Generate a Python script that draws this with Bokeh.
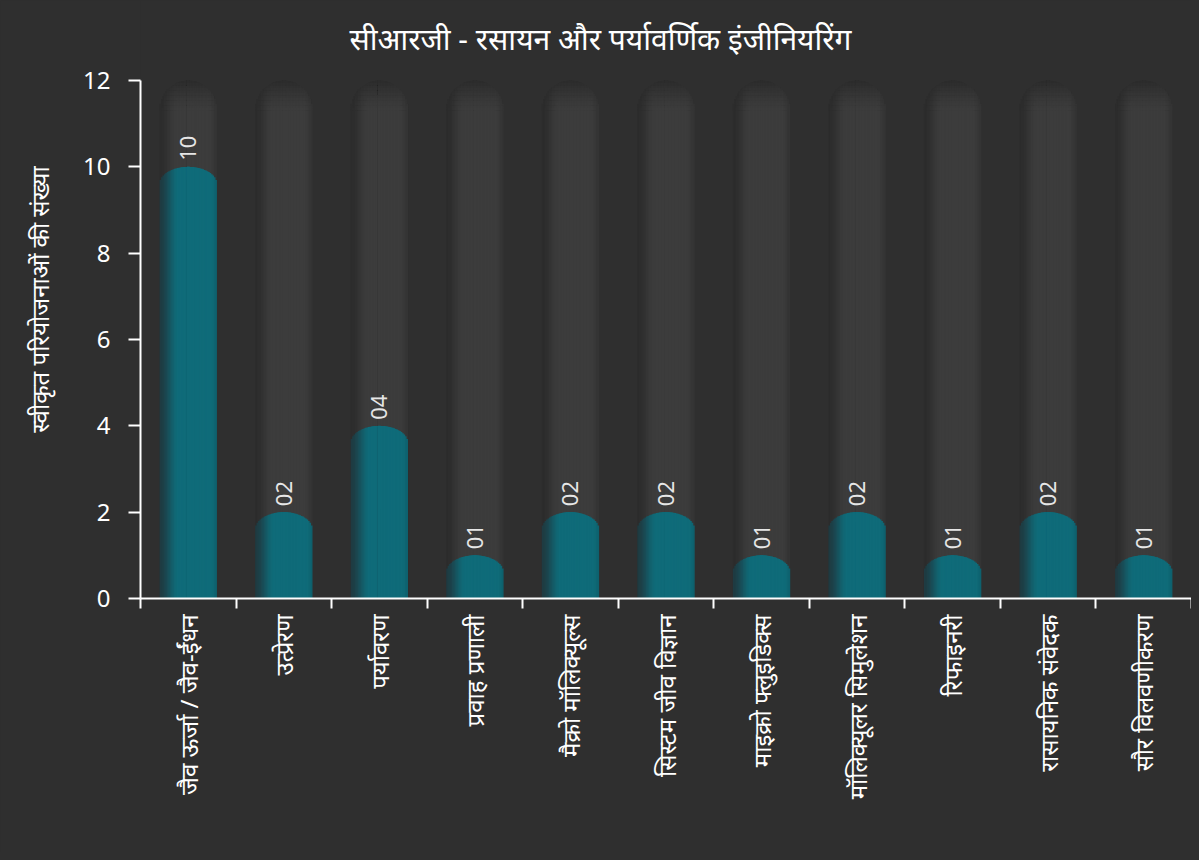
import numpy as np
from bokeh.plotting import figure
from bokeh.models import Range1d, FixedTicker, ColumnDataSource, Label
from bokeh.embed import file_html
from bokeh.resources import INLINE
from bokeh.core.properties import value

# ---------------- data ----------------
categories = ["जैव ऊर्जा / जैव-ईंधन", "उत्प्रेरण", "पर्यावरण", "प्रवाह प्रणाली",
              "मैक्रो मॉलिक्यूल्स", "सिस्टम जीव विज्ञान", "माइक्रो फ्लुइडिक्स",
              "मॉलिक्यूलर सिमुलेशन", "रिफाइनरी", "रासायनिक संवेदक", "सौर विलवणीकरण"]
counts = [10, 2, 4, 1, 2, 2, 1, 2, 1, 2, 1]
y_max = 12
y_ticks = [0, 2, 4, 6, 8, 10, 12]
title_text = "सीआरजी - रसायन और पर्यावर्णिक इंजीनियरिंग"
y_label = "स्वीकृत परियोजनाओं की संख्या"

# ---------------- style ----------------
BG = "#2f2f2f"
FONT = "Noto Sans"
W, H = 1191, 852
BL, BR = 140, 0
FRAME_TOP = 80             # pixel row of y_max
AXIS_Y = 598               # pixel row of y = 0
BB = H - AXIS_Y
TOP_PAD_PX = FRAME_TOP     # space above y_max inside the frame (holds the title)
BT = 0
frame_w = W - BL - BR
n = len(categories)
px_x = frame_w / n
px_y = (AXIS_Y - FRAME_TOP) / y_max
y_top = y_max + TOP_PAD_PX / px_y
bar_w = 0.6
hw = bar_w / 2
N_STRIPS = 40
teal_cap = 17 / px_y
bg_cap = 30 / px_y
K_ROWS = 12


def hex2rgb(h):
    h = h.lstrip("#")
    return np.array([int(h[i:i + 2], 16) for i in (0, 2, 4)], dtype=float)


def rgb2hex(c):
    c = np.clip(np.round(c), 0, 255).astype(int)
    return "#%02x%02x%02x" % tuple(c)


def mix(a, b, t):
    return a + (b - a) * t


def smooth(t):
    t = np.clip(t, 0, 1)
    return t * t * (3 - 2 * t)


teal = hex2rgb("#0f6b79")
teal_dark = hex2rgb("#1f3b42")
teal_right = hex2rgb("#0e616d")
bgbar = hex2rgb("#3c3c3c")
bgbar_dark = hex2rgb("#2c2c2c")
bgbar_right = hex2rgb("#343434")
bgcap_top = hex2rgb("#272727")

u = -1 + (np.arange(N_STRIPS) + 0.5) * 2 / N_STRIPS
pos = (u + 1) / 2
sw = bar_w / N_STRIPS
teal_cols, bg_cols = [], []
for q in pos:
    c = mix(teal_dark, teal, smooth(q / 0.33))
    if q > 0.9:
        c = mix(c, teal_right, smooth((q - 0.9) / 0.1))
    teal_cols.append(c)
    b = mix(bgbar_dark, bgbar, smooth(q / 0.3))
    if q > 0.85:
        b = mix(b, bgbar_right, smooth((q - 0.85) / 0.15))
    bg_cols.append(b)

# painter's order: outer strips first, each strip reaching past the bar centre
order = []
half = N_STRIPS // 2
for j in range(half):
    order.append((j, "L"))
for j in range(N_STRIPS - 1, half - 1, -1):
    order.append((j, "R"))

bg = dict(left=[], right=[], bottom=[], top=[], color=[])
fg = dict(left=[], right=[], bottom=[], top=[], color=[])


def add(d, l, r, b, t, c):
    d["left"].append(l); d["right"].append(r)
    d["bottom"].append(b); d["top"].append(t); d["color"].append(c)


def strip_lr(cx, j, side):
    l = cx + u[j] * hw - sw / 2
    r = l + sw
    if side == "L":
        r = cx + sw
    else:
        l = cx - sw
    return l, r


for i, v in enumerate(counts):
    cx = i + 0.5
    body_top = y_max - bg_cap
    for j, side in order:
        l, r = strip_lr(cx, j, side)
        add(bg, l, r, 0, body_top + 0.05, rgb2hex(bg_cols[j]))
    dy = bg_cap / K_ROWS
    for k in range(K_ROWS):
        y0 = body_top + k * dy
        t = ((k + 0.5) / K_ROWS) ** 1.4
        for j, side in order:
            shape = np.sqrt(max(0.0, 1 - u[j] ** 2))
            strip_top = body_top + bg_cap * shape
            y1 = min(y0 + dy * 1.6, strip_top)
            if y1 <= y0:
                continue
            l, r = strip_lr(cx, j, side)
            add(bg, l, r, y0, y1, rgb2hex(mix(bg_cols[j], bgcap_top, 0.8 * t)))
    for j, side in order:
        shape = np.sqrt(max(0.0, 1 - u[j] ** 2))
        l, r = strip_lr(cx, j, side)
        add(fg, l, r, 0, v - teal_cap + teal_cap * shape, rgb2hex(teal_cols[j]))

p = figure(width=W, height=H, output_backend="svg", toolbar_location=None,
           x_range=Range1d(0, n), y_range=Range1d(0, y_top),
           min_border_left=BL, min_border_right=BR, min_border_top=BT, min_border_bottom=BB,
           background_fill_color=BG, border_fill_color=BG,
           outline_line_color=None)
p.grid.visible = False

p.quad(left="left", right="right", bottom="bottom", top="top", source=ColumnDataSource(bg),
       fill_color="color", line_color=None)
p.quad(left="left", right="right", bottom="bottom", top="top", source=ColumnDataSource(fg),
       fill_color="color", line_color=None)

centers = [i + 0.5 for i in range(n)]
p.text(x=centers, y=counts, text=[f"{v:02d}" for v in counts], angle=np.pi / 2,
       text_align="left", text_baseline="middle", y_offset=-6,
       text_color="#e6e6e6", text_font=value(FONT), text_font_size="22px")

xa = p.xaxis[0]
xa.ticker = FixedTicker(ticks=centers, minor_ticks=list(range(n + 1)))
xa.major_label_overrides = {c: lab for c, lab in zip(centers, categories)}
xa.major_label_orientation = np.pi / 2
xa.major_tick_out = 0
xa.major_tick_in = 0
xa.minor_tick_out = 10
xa.minor_tick_in = 0
xa.minor_tick_line_color = "white"
xa.minor_tick_line_width = 2
xa.axis_line_color = "white"
xa.axis_line_width = 2
xa.major_label_text_color = "white"
xa.major_label_text_font = FONT
xa.major_label_text_font_size = "24px"
xa.major_label_standoff = 6

ya = p.yaxis[0]
ya.bounds = (0, y_max)
ya.ticker = FixedTicker(ticks=y_ticks, minor_ticks=[])
ya.major_tick_out = 12
ya.major_tick_in = 0
ya.major_tick_line_color = "white"
ya.major_tick_line_width = 2
ya.axis_line_color = "white"
ya.axis_line_width = 2
ya.major_label_text_color = "white"
ya.major_label_text_font = FONT
ya.major_label_text_font_size = "24px"
ya.major_label_standoff = 18
ya.axis_label = y_label
ya.axis_label_text_color = "white"
ya.axis_label_text_font = FONT
ya.axis_label_text_font_size = "24px"
ya.axis_label_text_font_style = "normal"
ya.axis_label_standoff = 24

title_x = (600 - BL) / px_x
title_y = y_max + (FRAME_TOP - 38) / px_y
p.add_layout(Label(x=title_x, y=title_y, text=title_text, text_align="center",
                   text_baseline="middle", text_color="white", text_font=FONT,
                   text_font_size="30px"))

html = file_html(p, INLINE)
style = "<style>html, body { background-color: %s; }</style>" % BG
html = html.replace("</head>", style + "\n</head>", 1)
open("out.html", "w").write(html)
